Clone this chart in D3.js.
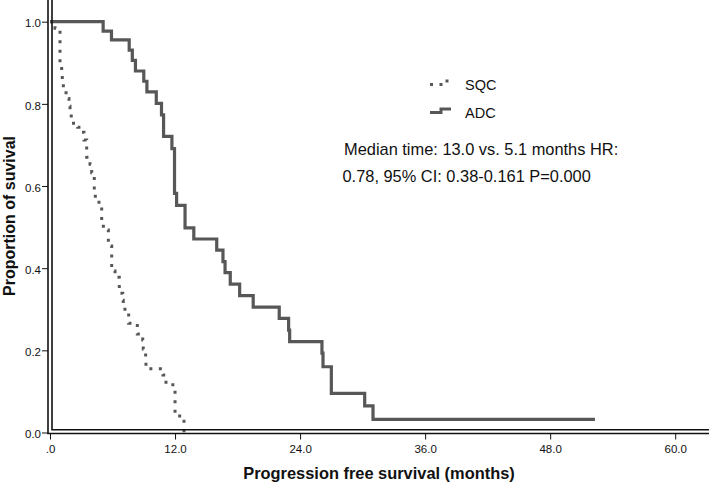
<!DOCTYPE html>
<html>
<head>
<meta charset="utf-8">
<script src="https://cdn.jsdelivr.net/npm/d3@7"></script>
<style>
  html, body { margin: 0; padding: 0; background: #fff; }
  svg { display: block; font-family: "Liberation Sans", Arial, Helvetica, sans-serif; }
</style>
</head>
<body>
<svg id="chart" width="709" height="483"></svg>
<script>
// ---- Data ----
// ADC: [time (months), survival proportion after event]
const adcTimes = [0, 5.1, 5.9, 7.6, 7.9, 8.2, 9.0, 9.3, 10.2, 10.7, 10.9, 11.7, 11.95, 12.15, 12.96, 13.8, 16.0, 16.6, 16.8, 17.3, 18.2, 19.5, 22.0, 22.9, 23.0, 26.1, 26.2, 27.0, 30.2, 31.0, 52.3];
const adcSurv  = [1.0, 0.977, 0.956, 0.931, 0.906, 0.880, 0.855, 0.829, 0.801, 0.773, 0.721, 0.691, 0.582, 0.553, 0.498, 0.471, 0.444, 0.416, 0.389, 0.361, 0.333, 0.305, 0.278, 0.249, 0.221, 0.193, 0.160, 0.095, 0.065, 0.032, 0.032];
// SQC
const sqcTimes = [0, 0.48, 0.96, 1.12, 1.18, 1.28, 1.54, 1.82, 1.92, 2.04, 2.66, 3.07, 3.26, 3.52, 3.84, 4.00, 4.25, 4.35, 4.70, 4.96, 5.12, 5.60, 5.92, 6.24, 6.65, 6.98, 7.03, 7.55, 8.38, 8.90, 8.95, 9.18, 9.21, 10.84, 11.13, 12.0, 12.86];
const sqcSurv  = [1.0, 0.984, 0.897, 0.877, 0.853, 0.831, 0.813, 0.794, 0.775, 0.753, 0.743, 0.731, 0.712, 0.670, 0.653, 0.632, 0.590, 0.568, 0.554, 0.512, 0.493, 0.454, 0.393, 0.378, 0.339, 0.322, 0.300, 0.266, 0.240, 0.225, 0.203, 0.184, 0.155, 0.140, 0.116, 0.040, 0.0];

const xTicks = [0, 12, 24, 36, 48, 60];
const xTickLabels = [".0", "12.0", "24.0", "36.0", "48.0", "60.0"];
const yTicks = [0, 0.2, 0.4, 0.6, 0.8, 1.0];
const yTickLabels = ["0.0", "0.2", "0.4", "0.6", "0.8", "1.0"];
const seriesNames = ["SQC", "ADC"];
const annotation = ["Median time: 13.0 vs. 5.1 months HR:", "0.78, 95% CI: 0.38-0.161 P=0.000"];
const xTitle = "Progression free survival (months)";
const yTitle = "Proportion of suvival";

// ---- Drawing ----
const svg = d3.select("#chart");
const W = 709, H = 483;
const lineColor = "#575757";

const x = d3.scaleLinear().domain([0, 60]).range([50, 675.2]);
const y = d3.scaleLinear().domain([0, 1]).range([432.5, 21.7]);

const axisOuterX = 48, axisOuterY = 433.5;
const axisInnerX = 52, axisInnerY = 429.8;

// Curves
const stepLine = d3.line().x(d => x(d[0])).y(d => y(d[1])).curve(d3.curveStepAfter);
const adcData = adcTimes.map((t, i) => [t, adcSurv[i]]);
const sqcData = sqcTimes.map((t, i) => [t, sqcSurv[i]]);

svg.append("path").attr("d", stepLine(sqcData))
  .attr("fill", "none").attr("stroke", lineColor).attr("stroke-width", 3)
  .attr("stroke-dasharray", "3,6.5");
svg.append("path").attr("d", stepLine(adcData))
  .attr("fill", "none").attr("stroke", lineColor).attr("stroke-width", 3.2)
  .attr("stroke-linejoin", "miter");

// Axes (ticks and labels through d3 axes)
const xAxis = d3.axisBottom(x).tickValues(xTicks)
  .tickFormat((d, i) => xTickLabels[i]).tickSize(6).tickPadding(5);
const gx = svg.append("g").attr("transform", `translate(0,${axisOuterY})`).call(xAxis);
gx.select(".domain").remove();
gx.selectAll("text").attr("font-size", 11.5).attr("fill", "#111").attr("font-family", "Liberation Sans, Arial, sans-serif");
gx.selectAll("line").attr("stroke", "#111");

const yAxis = d3.axisLeft(y).tickValues(yTicks)
  .tickFormat((d, i) => yTickLabels[i]).tickSize(6).tickPadding(1);
const gy = svg.append("g").attr("transform", `translate(${axisOuterX},0)`).call(yAxis);
gy.select(".domain").remove();
gy.selectAll("text").attr("font-size", 11.5).attr("fill", "#111").attr("font-family", "Liberation Sans, Arial, sans-serif").attr("dy", "0.45em");
gy.selectAll("line").attr("stroke", "#111");

// Double-line frame (L shape)
svg.append("path").attr("d", `M${axisOuterX},0 V${axisOuterY} H${W}`)
  .attr("fill", "none").attr("stroke", "#111").attr("stroke-width", 1.6);
svg.append("path").attr("d", `M${axisInnerX},0 V${axisInnerY} H${W}`)
  .attr("fill", "none").attr("stroke", "#111").attr("stroke-width", 1.6);

// Axis titles
svg.append("text").attr("x", 379).attr("y", 478.5).attr("text-anchor", "middle")
  .attr("font-size", 16.4).attr("font-weight", "bold").attr("fill", "#111").text(xTitle);
svg.append("text").attr("transform", "translate(14.5,216) rotate(-90)").attr("text-anchor", "middle")
  .attr("font-size", 16).attr("font-weight", "bold").attr("fill", "#111").text(yTitle);

// Legend
const legend = svg.append("g");
const legY = [84.5, 112.5];
seriesNames.forEach((name, i) => {
  const yy = legY[i];
  const p = legend.append("path")
    .attr("d", `M430,${yy} H441 V${yy - 3.5} H451`)
    .attr("fill", "none").attr("stroke", lineColor).attr("stroke-width", 3);
  if (name === "SQC") p.attr("stroke-dasharray", "3,6.5");
  legend.append("text").attr("x", 465).attr("y", yy + 5)
    .attr("font-size", 14.5).attr("fill", "#111").text(name);
});

// Annotation text
svg.append("text").attr("x", 344).attr("y", 154.5).attr("font-size", 16.4).attr("fill", "#111").text(annotation[0]);
svg.append("text").attr("x", 342.5).attr("y", 182).attr("font-size", 16.4).attr("fill", "#111").text(annotation[1]);
</script>
</body>
</html>
